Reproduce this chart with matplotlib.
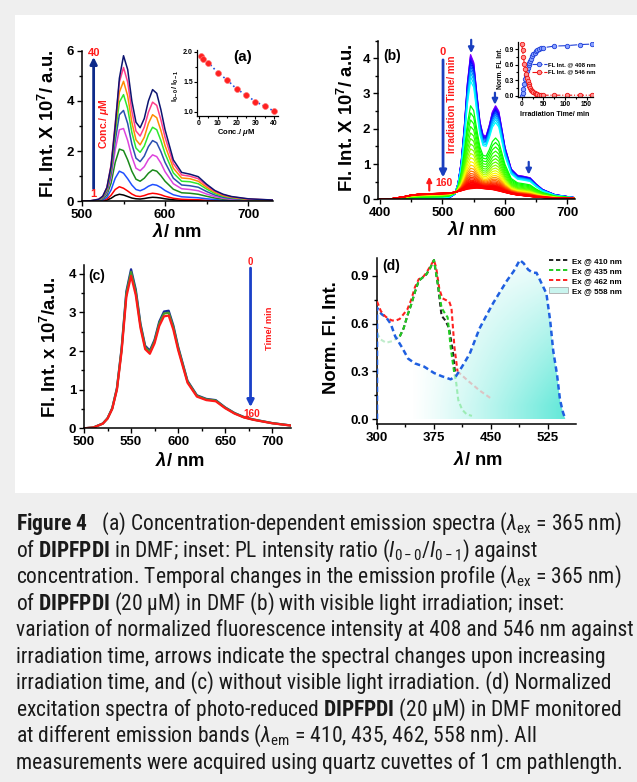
import numpy as np
import matplotlib
matplotlib.use("Agg")
import matplotlib.pyplot as plt
from matplotlib import font_manager
from matplotlib.ticker import MultipleLocator
from matplotlib.patches import Rectangle, PathPatch, Patch
from matplotlib.lines import Line2D
from matplotlib.colors import hsv_to_rgb


def pick_caption_font():
    # prefer a narrow sans for the caption block, else a plain one
    entries = font_manager.fontManager.ttflist
    names = {e.name for e in entries}
    for want in ["Liberation Sans Narrow", "Arial Narrow", "Roboto Condensed",
                 "Open Sans Condensed", "Noto Sans Condensed", "DejaVu Sans Condensed"]:
        if want in names:
            return want, "normal"
    for fam in ["Noto Sans", "Open Sans", "DejaVu Sans", "Roboto"]:
        if any(e.name == fam and e.stretch == "condensed" for e in entries):
            return fam, "condensed"
    return "Roboto" if "Roboto" in names else "Liberation Sans", "normal"


CAP_FONT, CAP_STRETCH = pick_caption_font()

plt.rcParams.update({
    "font.family": ["Liberation Sans", "DejaVu Sans"],
    "font.weight": "bold",
    "axes.labelweight": "bold",
    "axes.linewidth": 1.1,
    "mathtext.fontset": "custom",
    "mathtext.rm": CAP_FONT + ":normal",
    "mathtext.it": CAP_FONT + ":italic:normal",
    "mathtext.bf": CAP_FONT + ":bold",
    "mathtext.sf": "Liberation Sans:bold",
    "mathtext.cal": "Liberation Sans:bold:italic",
})

# ---- (a) concentration series, emission spectra (x 10^7 a.u.)
a_wl = [500, 510, 520, 525, 530, 535, 540, 545, 550, 555, 560, 565, 570, 575, 580,
        585, 590, 595, 600, 610, 620, 630, 640, 650, 660, 670, 680, 700, 730]
a_spectra = [
    [0.00, 0.00, 0.01, 0.02, 0.05, 0.12, 0.23, 0.28, 0.25, 0.19, 0.13, 0.10, 0.09, 0.11, 0.14,
     0.16, 0.15, 0.13, 0.10, 0.06, 0.04, 0.03, 0.03, 0.02, 0.01, 0.01, 0.01, 0.00, 0.00],
    [0.00, 0.00, 0.01, 0.03, 0.09, 0.24, 0.47, 0.58, 0.52, 0.41, 0.29, 0.21, 0.19, 0.23, 0.29,
     0.32, 0.30, 0.26, 0.20, 0.12, 0.08, 0.07, 0.06, 0.04, 0.03, 0.02, 0.01, 0.01, 0.00],
    [0.00, 0.00, 0.02, 0.05, 0.16, 0.45, 0.92, 1.20, 1.12, 0.90, 0.65, 0.47, 0.42, 0.49, 0.60,
     0.67, 0.64, 0.55, 0.43, 0.26, 0.18, 0.16, 0.14, 0.10, 0.07, 0.04, 0.03, 0.02, 0.01],
    [0.00, 0.01, 0.03, 0.09, 0.26, 0.72, 1.55, 2.08, 2.02, 1.65, 1.20, 0.88, 0.80, 0.92, 1.12,
     1.25, 1.20, 1.02, 0.80, 0.48, 0.34, 0.32, 0.28, 0.20, 0.13, 0.08, 0.06, 0.03, 0.01],
    [0.00, 0.01, 0.04, 0.12, 0.34, 0.95, 2.05, 2.85, 2.90, 2.42, 1.78, 1.32, 1.22, 1.38, 1.67,
     1.85, 1.78, 1.52, 1.18, 0.70, 0.50, 0.47, 0.42, 0.29, 0.19, 0.12, 0.08, 0.04, 0.02],
    [0.00, 0.01, 0.05, 0.14, 0.40, 1.10, 2.40, 3.45, 3.62, 3.10, 2.28, 1.72, 1.58, 1.80, 2.18,
     2.42, 2.33, 1.98, 1.55, 0.92, 0.65, 0.62, 0.56, 0.39, 0.25, 0.16, 0.11, 0.06, 0.03],
    [0.00, 0.01, 0.06, 0.16, 0.46, 1.25, 2.70, 3.95, 4.25, 3.70, 2.75, 2.12, 1.95, 2.20, 2.65,
     2.95, 2.85, 2.42, 1.90, 1.13, 0.80, 0.78, 0.70, 0.49, 0.31, 0.20, 0.14, 0.07, 0.04],
    [0.00, 0.01, 0.07, 0.18, 0.50, 1.35, 2.90, 4.35, 4.78, 4.20, 3.15, 2.45, 2.25, 2.55, 3.10,
     3.45, 3.33, 2.82, 2.22, 1.32, 0.93, 0.90, 0.80, 0.56, 0.36, 0.23, 0.16, 0.08, 0.04],
    [0.00, 0.02, 0.08, 0.20, 0.55, 1.45, 3.10, 4.75, 5.33, 4.75, 3.60, 2.80, 2.60, 2.95, 3.55,
     3.95, 3.82, 3.25, 2.55, 1.50, 1.05, 1.00, 0.90, 0.63, 0.40, 0.26, 0.18, 0.09, 0.05],
    [0.00, 0.02, 0.08, 0.20, 0.55, 1.40, 3.00, 4.90, 5.80, 5.25, 4.00, 3.15, 2.93, 3.30, 4.00,
     4.45, 4.30, 3.65, 2.85, 1.65, 1.15, 1.08, 0.98, 0.68, 0.43, 0.28, 0.19, 0.10, 0.05],
]
a_colors = ["#000000", "#ff0000", "#1f4fff", "#1a8a1a", "#dd44dd",
            "#2a4fb0", "#2ee82e", "#ff8c00", "#ff3d8b", "#0c1470"]

# inset (a): I0-0/I0-1 ratio vs concentration (uM)
a_conc = [1, 2, 5, 10, 15, 20, 25, 30, 35, 40]
a_ratio = [1.93, 1.88, 1.82, 1.65, 1.53, 1.38, 1.28, 1.17, 1.09, 1.01]

# ---- (b) irradiation series: first and last spectra, 546 nm peak of each scan
b_wl = [400, 420, 440, 450, 460, 480, 500, 510, 520, 525, 530, 535, 540, 545, 550, 555, 560,
        565, 570, 575, 580, 585, 590, 595, 600, 610, 620, 630, 640, 650, 660, 680, 710]
b_first = [0.00, 0.00, 0.00, 0.00, 0.00, 0.00, 0.01, 0.03, 0.15, 0.45, 1.05, 2.05, 3.30, 4.10,
           3.88, 3.00, 2.20, 1.82, 1.80, 2.10, 2.48, 2.65, 2.50, 2.00, 1.48, 0.86, 0.68, 0.65,
           0.61, 0.43, 0.28, 0.13, 0.05]
b_last = [0.00, 0.02, 0.08, 0.12, 0.14, 0.16, 0.17, 0.18, 0.20, 0.22, 0.24, 0.26, 0.28, 0.29,
          0.30, 0.31, 0.31, 0.30, 0.29, 0.28, 0.27, 0.25, 0.23, 0.21, 0.19, 0.15, 0.12, 0.10,
          0.08, 0.06, 0.05, 0.03, 0.02]
b_peaks = [4.10, 4.07, 4.03, 3.98, 3.92, 3.85, 3.77, 3.68, 3.58, 3.47, 3.35, 2.65, 2.45, 2.25,
           2.06, 1.88, 1.72, 1.57, 1.43, 1.30, 1.18, 1.07, 0.97, 0.88, 0.80, 0.73, 0.67, 0.62,
           0.58, 0.54, 0.51, 0.48, 0.46, 0.44, 0.42, 0.40, 0.39, 0.38, 0.37, 0.36, 0.35, 0.34,
           0.33, 0.32, 0.31, 0.30]

# inset (b): normalised intensity vs irradiation time (min)
b_time = [0, 2, 4, 6, 8, 10, 12, 14, 16, 18, 20, 22, 24, 27, 30, 33, 36, 40, 45, 50,
          75, 105, 135, 162]
b_f408 = [0.00, 0.05, 0.13, 0.22, 0.32, 0.40, 0.47, 0.53, 0.59, 0.64, 0.68, 0.72, 0.76, 0.80,
          0.83, 0.86, 0.88, 0.90, 0.92, 0.93, 0.96, 0.97, 0.99, 1.00]
b_f546 = [1.00, 0.88, 0.75, 0.62, 0.51, 0.42, 0.35, 0.29, 0.23, 0.19, 0.15, 0.12, 0.10, 0.07,
          0.05, 0.04, 0.03, 0.02, 0.02, 0.01, 0.01, 0.01, 0.01, 0.01]

# ---- (c) dark control: one spectrum, peak heights of the scans
c_wl = [500, 510, 520, 525, 530, 535, 540, 545, 550, 555, 560, 565, 570, 575, 580, 585, 590,
        595, 600, 610, 620, 630, 640, 650, 660, 670, 680, 700, 720]
c_spec = [0.00, 0.02, 0.12, 0.25, 0.50, 1.00, 2.00, 3.40, 3.95, 3.45, 2.60, 2.05, 1.93, 2.20,
          2.65, 2.90, 2.92, 2.55, 2.03, 1.18, 0.82, 0.73, 0.70, 0.52, 0.38, 0.28, 0.22, 0.13,
          0.07]
c_peaks = [4.12, 4.05, 3.95]
c_colors = ["#1a2a9a", "#4a9a2a", "#ff1a1a"]

# ---- (d) normalised excitation spectra
d410_x = [330, 335, 340, 345, 350, 355, 360, 365, 370, 375, 380, 385, 390, 395, 400, 403]
d410_y = [0.52, 0.57, 0.65, 0.72, 0.80, 0.87, 0.89, 0.91, 0.95, 1.00, 0.85, 0.65, 0.62, 0.57,
          0.42, 0.28]
d435_x = [330, 335, 340, 345, 350, 355, 360, 365, 370, 375, 380, 385, 390, 393, 397, 402]
d435_y = [0.52, 0.57, 0.65, 0.72, 0.80, 0.87, 0.89, 0.91, 0.95, 1.00, 0.85, 0.70, 0.66, 0.64,
          0.45, 0.28]
d435_head_x = [300, 305, 312, 320, 330]
d435_head_y = [0.54, 0.50, 0.48, 0.49, 0.52]
d435_tail_x = [402, 404, 407, 412, 418, 425]
d435_tail_y = [0.28, 0.24, 0.12, 0.06, 0.03, 0.02]
d462_x = [300, 305, 310, 315, 320, 325, 330, 335, 340, 345, 350, 355, 360, 365, 370, 375, 378,
          382, 386, 390, 395, 398, 402, 406]
d462_y = [0.74, 0.68, 0.65, 0.63, 0.62, 0.62, 0.63, 0.66, 0.69, 0.75, 0.83, 0.88, 0.89, 0.92,
          0.96, 1.00, 0.95, 0.82, 0.76, 0.75, 0.74, 0.70, 0.45, 0.30]
d462_tail_x = [406, 420, 435, 450]
d462_tail_y = [0.30, 0.24, 0.18, 0.13]
d558_x = [300, 300, 306, 312, 318, 324, 333, 341, 350, 362, 375, 385, 397, 404, 412, 422,
          435, 445, 453, 462, 471, 480, 488, 493, 499, 505, 510, 516, 523, 528, 532, 537,
          541, 545, 548]
d558_y = [0.00, 0.70, 0.66, 0.64, 0.60, 0.52, 0.45, 0.38, 0.35, 0.33, 0.29, 0.27, 0.25, 0.27,
          0.33, 0.41, 0.57, 0.66, 0.73, 0.80, 0.87, 0.93, 1.00, 0.98, 0.94, 0.92, 0.92, 0.86,
          0.79, 0.62, 0.43, 0.28, 0.12, 0.04, 0.00]

caption = [
    r"$\mathbf{Figure\ 4}$   (a) Concentration-dependent emission spectra ($\lambda_{\mathrm{ex}}$ = 365 nm)",
    r"of $\mathbf{DIPFPDI}$ in DMF; inset: PL intensity ratio ($I_{\mathrm{0-0}}/I_{\mathrm{0-1}}$) against",
    r"concentration. Temporal changes in the emission profile ($\lambda_{\mathrm{ex}}$ = 365 nm)",
    r"of $\mathbf{DIPFPDI}$ (20 μM) in DMF (b) with visible light irradiation; inset:",
    "variation of normalized fluorescence intensity at 408 and 546 nm against",
    "irradiation time, arrows indicate the spectral changes upon increasing",
    "irradiation time, and (c) without visible light irradiation. (d) Normalized",
    r"excitation spectra of photo-reduced $\mathbf{DIPFPDI}$ (20 μM) in DMF monitored",
    r"at different emission bands ($\lambda_{\mathrm{em}}$ = 410, 435, 462, 558 nm). All",
    "measurements were acquired using quartz cuvettes of 1 cm pathlength.",
]

W, H = 637, 782
fig = plt.figure(figsize=(W / 100, H / 100), dpi=100)
fig.patch.set_facecolor("#efefef")
fig.add_artist(Rectangle((15 / W, 1 - 493 / H), 1, (493 - 15) / H,
                         transform=fig.transFigure, facecolor="white",
                         edgecolor="none", zorder=0))


def px_axes(left, top, right, bottom):
    return fig.add_axes([left / W, 1 - bottom / H, (right - left) / W, (bottom - top) / H])


def fig_text(x, y, s, **kw):
    return fig.text(x / W, 1 - y / H, s, **kw)


def style(ax, xmaj, xmin, ymaj, ymin, size, lw=1.1, tl=3.5, pad=2):
    for side in ("top", "right"):
        ax.spines[side].set_visible(False)
    for side in ("left", "bottom"):
        ax.spines[side].set_linewidth(lw)
    ax.xaxis.set_major_locator(MultipleLocator(xmaj))
    ax.xaxis.set_minor_locator(MultipleLocator(xmin))
    ax.yaxis.set_major_locator(MultipleLocator(ymaj))
    ax.yaxis.set_minor_locator(MultipleLocator(ymin))
    ax.tick_params(which="both", direction="out", width=lw * 0.9, labelsize=size, pad=pad)
    ax.tick_params(which="major", length=tl)
    ax.tick_params(which="minor", length=tl * 0.6)
    ax.patch.set_alpha(0)


def arrow(ax, x0, y0, x1, y1, color, lw=2.0, ms=10):
    ax.annotate("", xy=(x1, y1), xytext=(x0, y0),
                arrowprops=dict(arrowstyle="-|>", color=color, lw=lw,
                                mutation_scale=ms, shrinkA=0, shrinkB=0),
                annotation_clip=False)


RED = "#ff1a1a"

# ---------------- panel (a)
ax = px_axes(82, 50.7, 273, 201.3)
for spec, col in zip(a_spectra, a_colors):
    ax.plot(a_wl, spec, color=col, lw=1.1)
ax.set_xlim(500, 730)
ax.set_ylim(0, 6)
style(ax, 100, 50, 2, 1, 9.5)
arrow(ax, 514, 0.5, 514, 5.75, "#0d2a8a", lw=2.0)
ax.text(514, 5.92, "40", color=RED, fontsize=8, ha="center", va="center")
ax.text(514, 0.3, "1", color=RED, fontsize=8, ha="center", va="center")
ax.text(527, 3.1, r"Conc./ $\mathcal{\mu}$M", color=RED, fontsize=7.5,
        rotation=90, ha="center", va="center")
fig_text(243, 57, "(a)", fontsize=11, ha="center", va="center")
fig_text(48, 124, r"Fl. Int. X 10$^{\mathsf{7}}$/ a.u.", fontsize=13.3,
         rotation=90, ha="center", va="center")
fig_text(177, 232, r"$\mathcal{\lambda}$/ nm", fontsize=13.3, ha="center", va="center")

ins = px_axes(197, 50, 278, 116)
ins.plot(a_conc, a_ratio, ":", color="#2050e0", lw=1.2)
ins.plot(a_conc, a_ratio, "o", ms=4.2, mfc="#ff2020", mec="#ff7070", mew=0.5)
ins.set_xlim(-1.1, 42)
ins.set_ylim(0.93, 2.03)
style(ins, 10, 5, 0.5, 0.25, 5.0, lw=0.9, tl=2, pad=1)
fig_text(176, 86, r"I$_{\mathsf{0-0}}$/ I$_{\mathsf{0-1}}$", fontsize=5.5,
         rotation=90, ha="center", va="center")
fig_text(236, 133, r"Conc./ $\mathcal{\mu}$M", fontsize=5.5, ha="center", va="center")

# ---------------- panel (b)
ax = px_axes(378, 40.5, 575, 199.3)
first = np.array(b_first)
last = np.array(b_last)
k = b_wl.index(545)
hue_peak = [0.30, 0.45, 0.60, 0.80, 1.00, 1.20, 1.60, 2.65, 3.35, 3.60, 3.90, 4.10]
hue_val = [0.00, 0.00, 0.03, 0.08, 0.15, 0.19, 0.28, 0.34, 0.50, 0.55, 0.66, 0.76]
for p in b_peaks:
    w = (p - last[k]) / (first[k] - last[k])
    spec = last + w * (first - last)
    hue = np.interp(p, hue_peak, hue_val)
    ax.plot(b_wl, spec, color=hsv_to_rgb((hue, 1, 1)), lw=0.9)
ax.set_xlim(397, 712)
ax.set_ylim(0, 4.5)
style(ax, 100, 50, 1, 0.5, 9.5)
arrow(ax, 501, 3.95, 501, 0.62, "#1a3fbf", lw=2.0)
ax.text(501, 4.18, "0", color=RED, fontsize=8, ha="center", va="center")
ax.text(503, 0.45, "160", color=RED, fontsize=7.5, ha="center", va="center")
arrow(ax, 479, 0.25, 479, 0.64, RED, lw=1.6, ms=7)
ax.text(515, 2.68, "Irradiation Time/ min", color=RED, fontsize=7.1,
        rotation=90, ha="center", va="center")
arrow(ax, 546, 4.52, 546, 4.14, "#1a3fbf", lw=1.6, ms=8)
arrow(ax, 584, 3.02, 584, 2.68, "#1a3fbf", lw=1.6, ms=8)
arrow(ax, 638, 1.06, 638, 0.70, "#1a3fbf", lw=1.6, ms=8)
ax.text(419, 4.05, "(b)", fontsize=10, ha="center", va="center")
fig_text(347, 118, r"Fl. Int. X 10$^{\mathsf{7}}$/ a.u.", fontsize=13.3,
         rotation=90, ha="center", va="center")
fig_text(472, 230, r"$\mathcal{\lambda}$/ nm", fontsize=13.3, ha="center", va="center")

ins = px_axes(518, 42, 593, 97)
ins.plot(b_time, b_f408, "-.", marker="o", ms=3.2, color="#1f3fd8", mfc="#8aa2ff",
         mec="#1f3fd8", mew=0.6, lw=0.8, label="FL Int. @ 408 nm")
ins.plot(b_time, b_f546, "-.", marker="o", ms=3.2, color="#ee1111", mfc="#ff9090",
         mec="#ee1111", mew=0.6, lw=0.8, label="FL Int. @ 546 nm")
ins.set_xlim(-8.6, 165)
ins.set_ylim(-0.025, 1.04)
style(ins, 50, 25, 0.3, 0.15, 4.8, lw=0.9, tl=2, pad=1)
ins.legend(loc="center left", bbox_to_anchor=(0.15, 0.52), frameon=False, fontsize=4.3,
           handlelength=2.4, handletextpad=0.3, labelspacing=0.35, borderpad=0)
fig_text(500, 68, "Norm. FL Int.", fontsize=4.8, rotation=90, ha="center", va="center")
fig_text(555, 114, "Irradiation Time/ min", fontsize=5.0, ha="center", va="center")

# ---------------- panel (c)
ax = px_axes(84, 265, 291, 428.3)
base = np.array(c_spec)
for p, col in zip(c_peaks, c_colors):
    ax.plot(c_wl, base * p / base.max(), color=col, lw=1.6)
ax.set_xlim(500, 720)
ax.set_ylim(0, 4.23)
style(ax, 50, 25, 1, 0.5, 9.5)
arrow(ax, 677, 4.15, 677, 0.55, "#1a40c8", lw=2.0)
ax.text(677, 4.3, "0", color=RED, fontsize=7, ha="center", va="center")
ax.text(678, 0.36, "160", color=RED, fontsize=7.2, ha="center", va="center")
ax.text(697, 2.6, "Time/ min", color=RED, fontsize=6.7, rotation=90,
        ha="center", va="center")
ax.text(504, 3.95, "(c)", fontsize=10, ha="left", va="center")
fig_text(50, 347, r"Fl. Int. x 10$^{\mathsf{7}}$/a.u.", fontsize=13.3,
         rotation=90, ha="center", va="center")
fig_text(180, 461, r"$\mathcal{\lambda}$/ nm", fontsize=13.3, ha="center", va="center")

# ---------------- panel (d)
ax = px_axes(377, 258, 576, 424)
dash = (0, (2.2, 1.4))
fill = ax.fill_between(d558_x, d558_y, 0, facecolor="none", edgecolor="none")
clip = PathPatch(fill.get_paths()[0], transform=ax.transData, facecolor="none",
                 edgecolor="none")
ax.add_patch(clip)
gx, gy = np.meshgrid(np.linspace(300, 550, 200), np.linspace(0, 1.0, 120))
shade = np.clip((gx - 345) / 205, 0, 1) ** 1.2 * np.clip(1.08 - gy, 0, 1) ** 0.9
grad = np.zeros(gx.shape + (4,))
grad[..., 0], grad[..., 1], grad[..., 2] = 0.38, 0.91, 0.85
grad[..., 3] = np.clip(shade, 0, 1)
im = ax.imshow(grad, extent=[300, 550, 0, 1.0], origin="lower", aspect="auto", zorder=1)
im.set_clip_path(clip)
ax.plot(d435_head_x, d435_head_y, color="#bfeccb", ls=dash, lw=1.5, zorder=2)
ax.plot(d435_tail_x, d435_tail_y, color="#9cecb4", ls=dash, lw=1.5, zorder=2)
ax.plot(d462_tail_x, d462_tail_y, color="#dcc4c4", ls=dash, lw=1.5, zorder=2)
ax.plot(d558_x, d558_y, color="#1f5fe0", ls=dash, lw=1.8, zorder=3)
ax.plot(d462_x, d462_y, color="#ff2020", ls=dash, lw=1.5, zorder=3)
ax.plot(d410_x, d410_y, color="#222222", ls=dash, lw=1.5, zorder=4)
ax.plot(d435_x, d435_y, color="#22cc22", ls=dash, lw=1.5, zorder=4)
ax.set_xlim(300, 562)
ax.set_ylim(-0.031, 1.013)
style(ax, 75, 37.5, 0.3, 0.15, 9.5)
ax.text(319, 0.96, "(d)", fontsize=10, ha="center", va="center")
fig_text(332, 338, "Norm. Fl. Int.", fontsize=13.3, rotation=90, ha="center", va="center")
fig_text(478, 460, r"$\mathcal{\lambda}$/ nm", fontsize=13.3, ha="center", va="center")

handles = [Line2D([], [], color="#222222", ls=dash, lw=1.4),
           Line2D([], [], color="#22cc22", ls=dash, lw=1.4),
           Line2D([], [], color="#ff2020", ls=dash, lw=1.4),
           Patch(facecolor="#c9f4ee", edgecolor="#aaaaaa", lw=0.6)]
fig.legend(handles, ["Ex @ 410 nm", "Ex @ 435 nm", "Ex @ 462 nm", "Ex @ 558 nm"],
           loc="upper left", bbox_to_anchor=(545 / W, 1 - 253 / H), frameon=False,
           fontsize=5.8, handlelength=2.4, handletextpad=0.5, labelspacing=0.3,
           borderpad=0)

# ---------------- caption, sized so the last line spans the text block
cap_texts = [fig_text(16, 530 + i * 26.5, line, family=CAP_FONT, stretch=CAP_STRETCH,
                      weight="normal", fontsize=15.5, color="#1a1a1a",
                      ha="left", va="baseline")
             for i, line in enumerate(caption)]
fig.canvas.draw()
span = cap_texts[-1].get_window_extent(fig.canvas.get_renderer()).width
size = min(15.5, 15.5 * 614 / span)
for t in cap_texts:
    t.set_fontsize(size)

fig.savefig("out.png", dpi=100, facecolor=fig.get_facecolor())
